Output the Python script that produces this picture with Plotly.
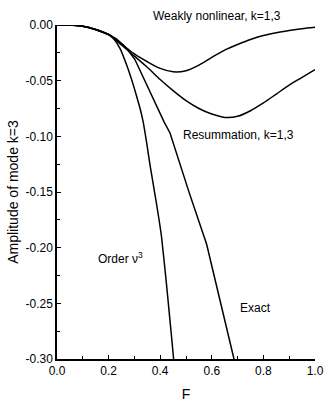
import plotly.graph_objects as go

# Weakly nonlinear k=1,3
f_weak = [0, 0.05, 0.1, 0.15, 0.2, 0.25, 0.3, 0.35, 0.4, 0.45, 0.5, 0.55, 0.6, 0.65, 0.7, 0.75, 0.8, 0.85, 0.9, 0.95, 1.0]
a_weak = [0, -0.0001, -0.0012, -0.004, -0.0085, -0.017, -0.026, -0.033, -0.039, -0.042, -0.041, -0.036, -0.029, -0.0225, -0.0175, -0.013, -0.0095, -0.007, -0.005, -0.0033, -0.002]

# Resummation k=1,3
f_res = [0, 0.05, 0.1, 0.15, 0.2, 0.25, 0.3, 0.35, 0.4, 0.45, 0.5, 0.55, 0.6, 0.65, 0.7, 0.75, 0.8, 0.85, 0.9, 0.95, 1.0]
a_res = [0, -0.0001, -0.0012, -0.0042, -0.0088, -0.018, -0.028, -0.038, -0.049, -0.059, -0.068, -0.075, -0.080, -0.083, -0.082, -0.077, -0.070, -0.062, -0.054, -0.047, -0.040]

# Exact
f_exact = [0, 0.05, 0.1, 0.15, 0.2, 0.23, 0.257, 0.28, 0.302, 0.36, 0.415, 0.438, 0.513, 0.58, 0.686]
a_exact = [0, -0.0001, -0.0012, -0.004, -0.0085, -0.0125, -0.018, -0.024, -0.031, -0.060, -0.087, -0.097, -0.151, -0.197, -0.30]

# Order nu^3
f_order = [0, 0.05, 0.1, 0.15, 0.2, 0.218, 0.244, 0.27, 0.296, 0.322, 0.334, 0.347, 0.36, 0.373, 0.386, 0.405, 0.424, 0.444, 0.452]
a_order = [0, -0.0001, -0.0012, -0.004, -0.0085, -0.012, -0.021, -0.036, -0.054, -0.075, -0.087, -0.105, -0.125, -0.143, -0.161, -0.190, -0.232, -0.280, -0.30]

x_ticks = [0.0, 0.2, 0.4, 0.6, 0.8, 1.0]
x_ticklabels = ["0.0", "0.2", "0.4", "0.6", "0.8", "1.0"]
y_ticks = [0.0, -0.05, -0.10, -0.15, -0.20, -0.25, -0.30]
y_ticklabels = ["0.00", "-0.05", "-0.10", "-0.15", "-0.20", "-0.25", "-0.30"]

line = dict(color="black", width=1.5)
fig = go.Figure()
fig.add_trace(go.Scatter(x=f_weak, y=a_weak, mode="lines", line=dict(line, shape="spline", smoothing=0.8)))
fig.add_trace(go.Scatter(x=f_res, y=a_res, mode="lines", line=dict(line, shape="spline", smoothing=0.8)))
fig.add_trace(go.Scatter(x=f_exact, y=a_exact, mode="lines", line=line))
fig.add_trace(go.Scatter(x=f_order, y=a_order, mode="lines", line=dict(line, shape="spline", smoothing=0.4)))

font = dict(family="Liberation Sans, Arial, sans-serif", size=12, color="black")
labels = [
    (0.705, -0.099, "Resummation, k=1,3"),
    (0.248, -0.209, "Order \u03bd<sup>3</sup>"),
    (0.771, -0.254, "Exact"),
]
for x, y, t in labels:
    fig.add_annotation(x=x, y=y, text=t, showarrow=False, font=font,
                       xanchor="center", yanchor="middle")
# this one sits above the plot area, so place it in paper units
fig.add_annotation(x=0.62, xref="x", y=1.027, yref="paper", text="Weakly nonlinear, k=1,3",
                   showarrow=False, font=font, xanchor="center", yanchor="middle")

fig.update_layout(
    width=327, height=407,
    margin=dict(l=57, r=12, t=25, b=48),
    plot_bgcolor="white", paper_bgcolor="white",
    showlegend=False,
    font=font,
    xaxis=dict(range=[0, 1.0], tickvals=x_ticks, ticktext=x_ticklabels,
               ticks="inside", ticklen=4, tickwidth=1.2, tickcolor="black",
               minor=dict(dtick=0.1, ticks="inside", ticklen=3, tickcolor="black"),
               showline=True, linecolor="black", linewidth=1.5,
               showgrid=False, zeroline=False, automargin=False,
               title=dict(text="F", standoff=12)),
    yaxis=dict(range=[-0.30, 0.0], tickvals=y_ticks, ticktext=y_ticklabels,
               ticks="inside", ticklen=4, tickwidth=1.2, tickcolor="black",
               minor=dict(dtick=0.025, ticks="inside", ticklen=3, tickcolor="black"),
               showline=True, linecolor="black", linewidth=1.5,
               showgrid=False, zeroline=False, automargin=False,
               title=dict(text="Amplitude of mode k=3", standoff=4)),
)

fig.write_html("out.html", config={"displayModeBar": False},
               post_script="document.body.style.margin='0';")
